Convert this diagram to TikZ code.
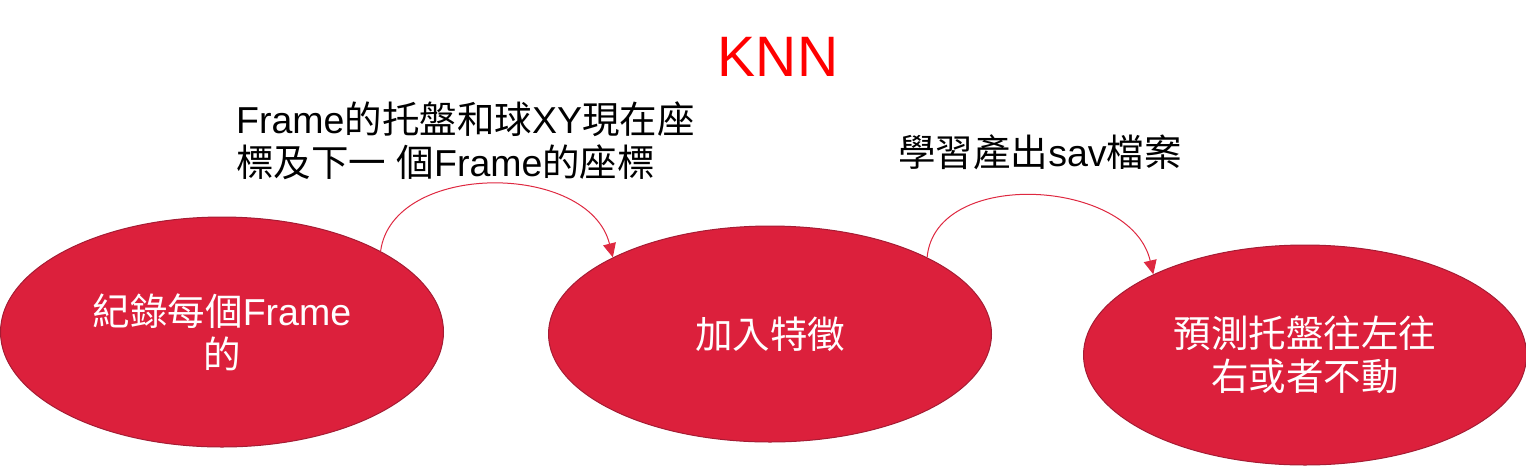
\documentclass[tikz,border=0pt]{standalone}
\usepackage{fontspec}
\setmainfont{Liberation Sans}
\newfontfamily\cjk{Noto Sans CJK TC}
\newcommand\zh[1]{{\cjk #1}}
\usetikzlibrary{shapes.geometric,arrows.meta}
\definecolor{ellred}{RGB}{220,32,60}
\definecolor{ellborder}{RGB}{165,28,52}
\definecolor{arrred}{RGB}{222,40,64}
\tikzset{
  stepell/.style={ellipse, fill=ellred, draw=ellborder, line width=1pt,
    minimum width=443pt, inner sep=0pt,
    text=white, align=center, font=\fontsize{37.5}{45}\selectfont},
  lbl/.style={inner sep=0pt, text=black, font=\fontsize{37.5}{45}\selectfont},
  flow/.style={draw=arrred, line width=1pt, -{Triangle[length=14pt,width=13pt]}}
}
\begin{document}
\begin{tikzpicture}[x=1pt,y=-1pt]
\useasboundingbox (0,0) rectangle (1526,467);
\node[inner sep=0pt, text={rgb,255:red,255;green,0;blue,0}, font=\fontsize{57}{60}\selectfont] (title) at (778,57) {KNN};
\node[stepell, minimum height=230pt] (e1) at (222,332) {\zh{紀錄每個}Frame\\[-2pt]\zh{的}};
\node[stepell, minimum height=216pt] (e2) at (770,334) {\raisebox{-4pt}{\zh{加入特徵}}};
\node[stepell, minimum height=220pt] (e3) at (1305,355) {\zh{預測托盤往左往}\\[-2pt]\zh{右或者不動}};
\node[lbl, anchor=west, align=left] (l1) at (236,141) {Frame\zh{的托盤和球}XY\zh{現在座}\\[-2pt]\zh{標及下一} \zh{個}Frame\zh{的座標}};
\node[lbl] (l2) at (1040,152) {\zh{學習產出}sav\zh{檔案}};
\draw[flow] (e1.27) .. controls +(12,-90) and +(-24,-96) .. (e2.154);
\draw[flow] (e2.26) .. controls +(8,-90) and +(-22,-96) .. (e3.152);
\end{tikzpicture}
\end{document}
